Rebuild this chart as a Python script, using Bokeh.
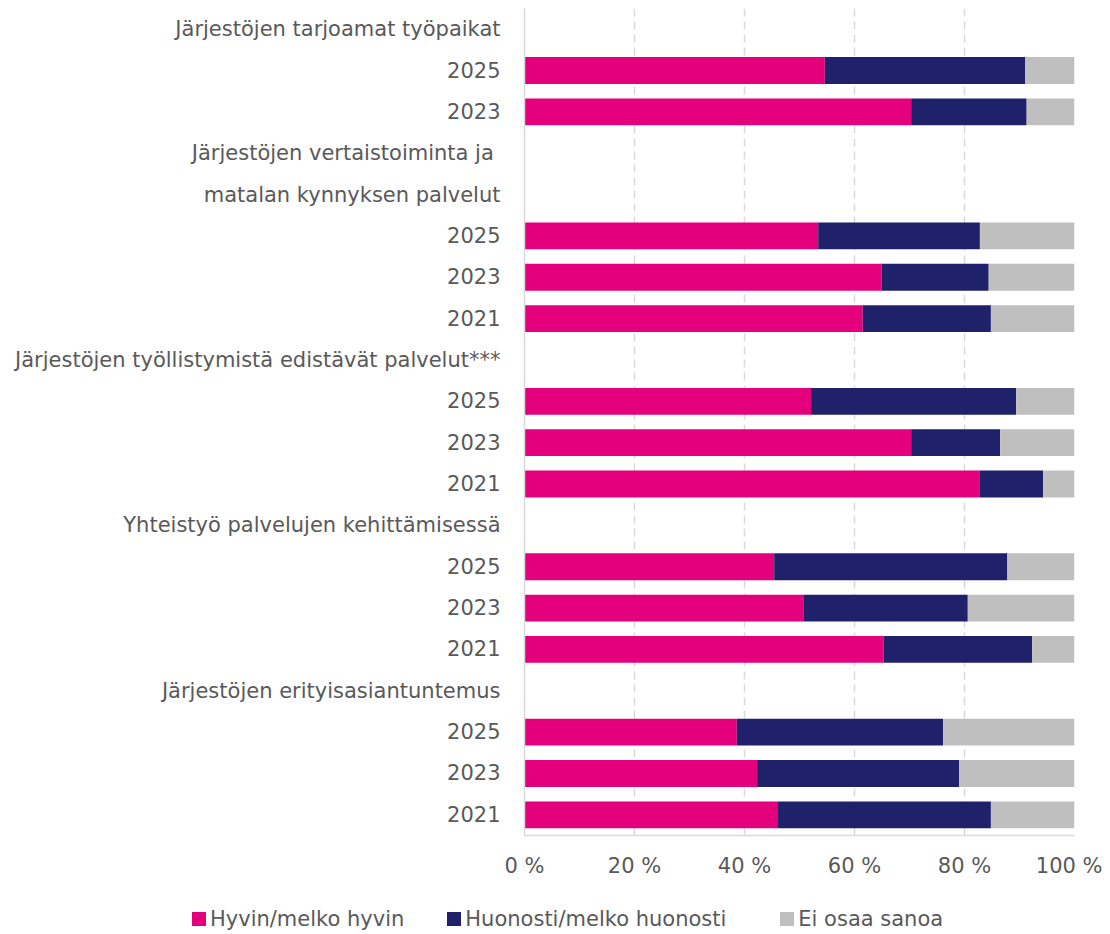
from bokeh.plotting import figure
from bokeh.layouts import column
from bokeh.models import ColumnDataSource, Range1d, FixedTicker, Div
from bokeh.embed import file_html
from bokeh.resources import INLINE

row_labels = ["Järjestöjen tarjoamat työpaikat", "2025", "2023",
              "Järjestöjen vertaistoiminta ja ", "matalan kynnyksen palvelut", "2025", "2023", "2021",
              "Järjestöjen työllistymistä edistävät palvelut***", "2025", "2023", "2021",
              "Yhteistyö palvelujen kehittämisessä", "2025", "2023", "2021",
              "Järjestöjen erityisasiantuntemus", "2025", "2023", "2021"]
hyvin = [None, 54.6, 70.3, None, None, 53.4, 64.9, 61.5, None, 52.1, 70.3, 82.8,
         None, 45.4, 50.7, 65.3, None, 38.6, 42.3, 46.1]
huonosti = [None, 36.4, 21.0, None, None, 29.4, 19.5, 23.3, None, 37.3, 16.2, 11.5,
            None, 42.4, 29.9, 27.0, None, 37.5, 36.7, 38.7]
eos = [None, 9.0, 8.7, None, None, 17.2, 15.6, 15.2, None, 10.6, 13.5, 5.7,
       None, 12.2, 19.4, 7.7, None, 23.9, 21.0, 15.2]
series_names = ["Hyvin/melko hyvin", "Huonosti/melko huonosti", "Ei osaa sanoa"]
colors = ["#E4007C", "#1F216B", "#BFBFBF"]
x_ticks = [0, 20, 40, 60, 80, 100]
x_tick_labels = ["0 %", "20 %", "40 %", "60 %", "80 %", "100 %"]

FONT = "DejaVu Sans"
FS = "21px"
TXT = "#595959"
GRID = "#D9D9D9"

idx = [i for i, v in enumerate(hyvin) if v is not None]
src = ColumnDataSource(dict(
    y=idx,
    hyvin=[hyvin[i] for i in idx],
    huonosti=[huonosti[i] for i in idx],
    eos=[eos[i] for i in idx],
))

n = len(row_labels)
p = figure(frame_width=550, frame_height=827,
           x_range=Range1d(0, 100), y_range=Range1d(n - 0.5, -0.5),
           output_backend="svg", toolbar_location=None,
           min_border_left=524, min_border_right=28, min_border_top=8, min_border_bottom=52)

p.hbar_stack(["hyvin", "huonosti", "eos"], y="y", height=0.65, color=colors,
             line_color=None, source=src)

p.outline_line_color = None
p.background_fill_color = "white"

# y axis
p.yaxis.ticker = FixedTicker(ticks=list(range(n)))
p.yaxis.major_label_overrides = {i: lab for i, lab in enumerate(row_labels)}
p.yaxis.major_tick_line_color = None
p.yaxis.minor_tick_line_color = None
p.yaxis.major_tick_out = 0
p.yaxis.major_label_standoff = 24
p.yaxis.axis_line_color = GRID
p.yaxis.axis_line_width = 1.5
p.yaxis.major_label_text_font = FONT
p.yaxis.major_label_text_font_size = FS
p.yaxis.major_label_text_color = TXT

# x axis
p.xaxis.ticker = FixedTicker(ticks=x_ticks)
p.xaxis.major_label_overrides = {t: lab for t, lab in zip(x_ticks, x_tick_labels)}
p.xaxis.major_tick_line_color = None
p.xaxis.minor_tick_line_color = None
p.xaxis.major_tick_out = 0
p.xaxis.major_label_standoff = 18
p.xaxis.axis_line_color = GRID
p.xaxis.axis_line_width = 1.5
p.xaxis.major_label_text_font = FONT
p.xaxis.major_label_text_font_size = FS
p.xaxis.major_label_text_color = TXT

# grids
p.ygrid.grid_line_color = None
p.xgrid.ticker = FixedTicker(ticks=x_ticks[1:])
p.xgrid.grid_line_color = GRID
p.xgrid.grid_line_width = 1.5
p.xgrid.grid_line_dash = "8 5"

# legend row below the chart
gaps = [43, 54, 0]
parts = []
for name, c, g in zip(series_names, colors, gaps):
    parts.append(
        f'<span style="display:inline-flex;align-items:center;margin-right:{g}px">'
        f'<span style="display:inline-block;width:14px;height:14px;background:{c};margin-right:4px"></span>'
        f'<span>{name}</span></span>'
    )
legend_div = Div(
    text="".join(parts), width=1102, height=42,
    styles={"font-family": FONT, "font-size": FS, "color": TXT, "white-space": "nowrap",
            "padding-left": "187px", "padding-top": "15px", "line-height": "24px",
            "box-sizing": "border-box"},
)

layout = column(p, legend_div, spacing=0)
open("out.html", "w").write(file_html(layout, INLINE))
